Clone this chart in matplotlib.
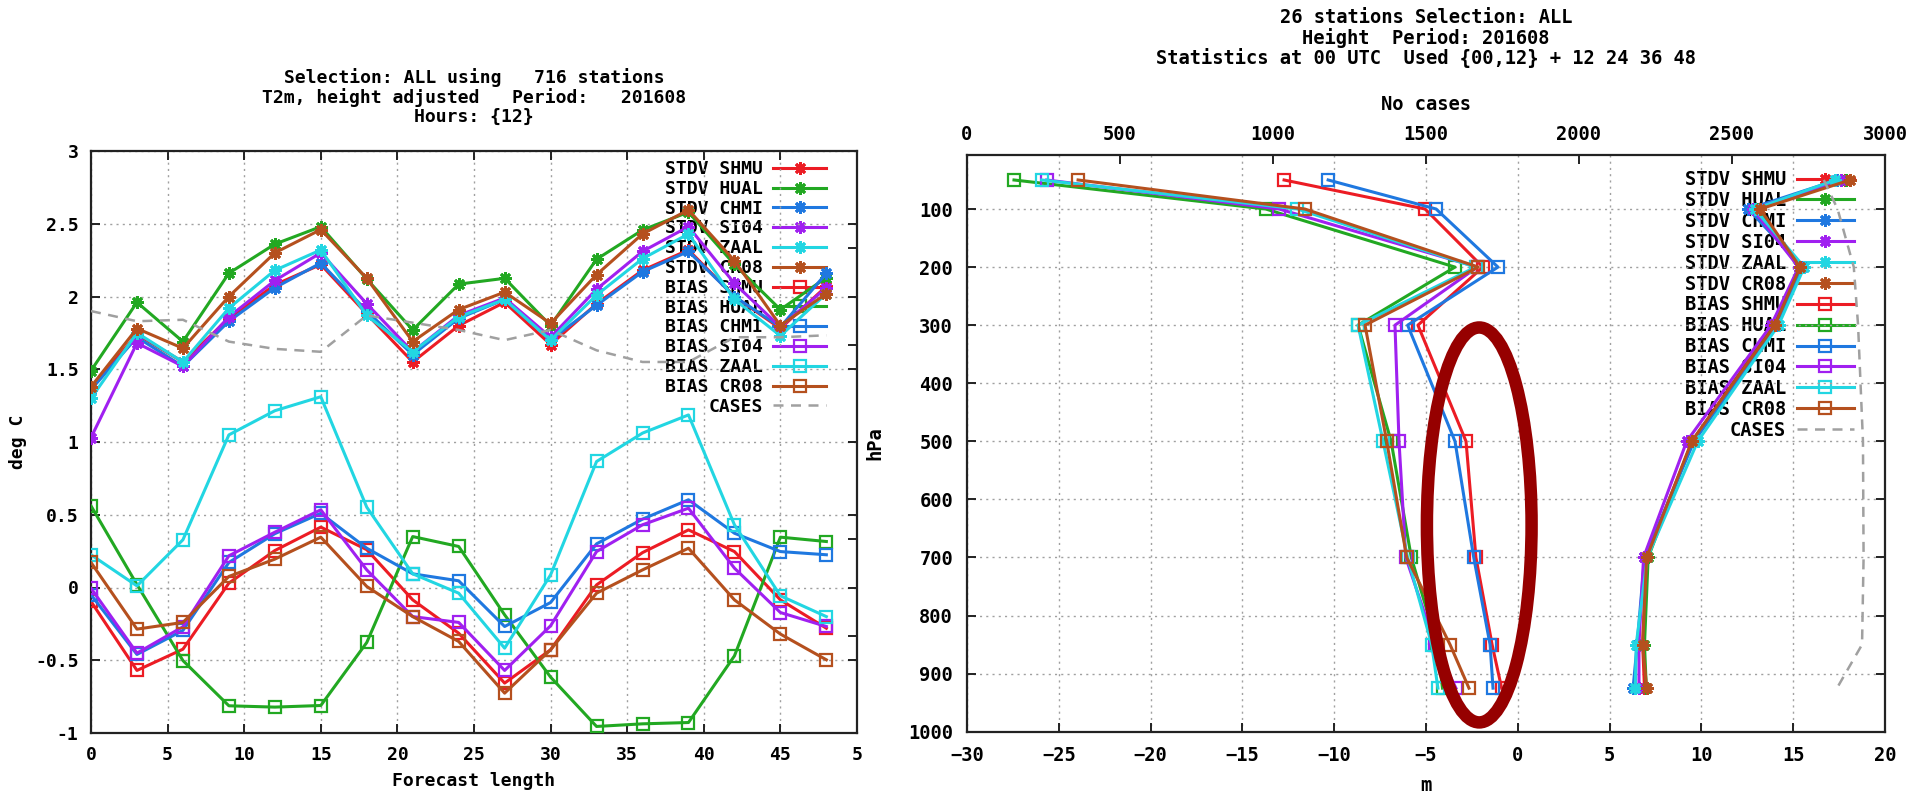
import matplotlib
matplotlib.use('Agg')
import matplotlib.pyplot as plt
from matplotlib.patches import Ellipse

# ---------------- data: left panel (T2m vs forecast length) ----------------
hours = [0, 3, 6, 9, 12, 15, 18, 21, 24, 27, 30, 33, 36, 39, 42, 45, 48]
stations = ['SHMU', 'HUAL', 'CHMI', 'SI04', 'ZAAL', 'CR08']

stdv_shmu = [1.37, 1.74, 1.55, 1.85, 2.08, 2.22, 1.88, 1.55, 1.80, 1.96, 1.67, 1.95, 2.18, 2.32, 2.00, 1.78, 2.07]
stdv_hual = [1.49, 1.96, 1.69, 2.16, 2.36, 2.48, 2.12, 1.77, 2.085, 2.125, 1.80, 2.256, 2.457, 2.58, 2.22, 1.91, 2.13]
stdv_chmi = [1.36, 1.72, 1.52, 1.83, 2.06, 2.23, 1.90, 1.60, 1.85, 1.98, 1.70, 1.94, 2.17, 2.31, 2.00, 1.79, 2.16]
stdv_si04 = [1.03, 1.68, 1.52, 1.86, 2.11, 2.30, 1.95, 1.62, 1.87, 1.99, 1.72, 2.05, 2.31, 2.48, 2.09, 1.79, 2.06]
stdv_zaal = [1.30, 1.75, 1.55, 1.92, 2.18, 2.32, 1.87, 1.62, 1.86, 1.98, 1.70, 2.01, 2.26, 2.43, 1.98, 1.73, 2.02]
stdv_cr08 = [1.38, 1.78, 1.644, 2.00, 2.30, 2.46, 2.125, 1.69, 1.91, 2.03, 1.815, 2.15, 2.43, 2.595, 2.246, 1.80, 2.02]

bias_shmu = [-0.096, -0.57, -0.424, 0.03, 0.254, 0.415, 0.26, -0.085, -0.314, -0.657, -0.428, 0.018, 0.24, 0.396, 0.247, -0.085, -0.28]
bias_hual = [0.561, 0.02, -0.502, -0.813, -0.822, -0.811, -0.378, 0.35, 0.282, -0.188, -0.616, -0.955, -0.937, -0.928, -0.47, 0.346, 0.316]
bias_chmi = [-0.05, -0.46, -0.295, 0.172, 0.37, 0.51, 0.27, 0.094, 0.046, -0.268, -0.103, 0.30, 0.47, 0.603, 0.373, 0.247, 0.225]
bias_si04 = [-0.005, -0.451, -0.27, 0.218, 0.38, 0.534, 0.121, -0.20, -0.24, -0.57, -0.263, 0.247, 0.431, 0.545, 0.133, -0.172, -0.268]
bias_zaal = [0.225, 0.011, 0.328, 1.049, 1.215, 1.311, 0.552, 0.094, -0.039, -0.417, 0.087, 0.866, 1.061, 1.186, 0.431, -0.057, -0.20]
bias_cr08 = [0.172, -0.286, -0.24, 0.076, 0.195, 0.346, 0.007, -0.20, -0.371, -0.726, -0.428, -0.039, 0.121, 0.27, -0.085, -0.32, -0.497]

cases_left = [4350, 4245, 4260, 4035, 3960, 3930, 4305, 4230, 4155, 4050, 4155, 3945, 3825, 3825, 4080, 4080, 4100]

left_xticks = [0, 5, 10, 15, 20, 25, 30, 35, 40, 45, 50]
left_xticklabels = ['0', '5', '10', '15', '20', '25', '30', '35', '40', '45', '5']
left_yticks = [-1, -0.5, 0, 0.5, 1, 1.5, 2, 2.5, 3]
left_yticklabels = ['-1', '-0.5', '0', '0.5', '1', '1.5', '2', '2.5', '3']

# ---------------- data: right panel (height profile) ----------------
levels = [50, 100, 200, 300, 500, 700, 850, 925]

r_bias_shmu = [-12.73, -5.05, -1.90, -5.44, -2.82, -2.28, -1.40, -0.88]
r_bias_hual = [-27.44, -13.73, -3.42, -8.70, -6.90, -5.80, -4.40, -4.10]
r_bias_chmi = [-10.33, -4.45, -1.08, -6.00, -3.42, -2.40, -1.51, -1.35]
r_bias_si04 = [-25.66, -13.00, -2.20, -6.69, -6.47, -6.10, -4.50, -3.37]
r_bias_zaal = [-25.93, -12.00, -2.30, -8.70, -7.34, -6.00, -4.69, -4.35]
r_bias_cr08 = [-23.95, -11.60, -2.15, -8.32, -7.14, -6.05, -3.69, -2.66]

r_stdv_shmu = [17.8, 12.9, 15.4, 13.9, 9.5, 7.00, 6.80, 6.90]
r_stdv_hual = [17.9, 13.0, 15.3, 14.0, 9.5, 7.10, 6.90, 7.00]
r_stdv_chmi = [17.4, 12.55, 15.5, 14.1, 9.6, 6.90, 6.50, 6.28]
r_stdv_si04 = [17.6, 12.8, 15.3, 13.8, 9.2, 6.85, 6.60, 6.60]
r_stdv_zaal = [17.3, 12.9, 15.6, 14.2, 9.8, 7.05, 6.45, 6.40]
r_stdv_cr08 = [18.1, 13.2, 15.37, 14.0, 9.47, 7.02, 6.80, 7.02]

cases_right = [2800, 2845, 2898, 2912, 2928, 2930, 2925, 2843]

right_xticks = [-30, -25, -20, -15, -10, -5, 0, 5, 10, 15, 20]
right_yticks = [100, 200, 300, 400, 500, 600, 700, 800, 900, 1000]
right_x2ticks = [0, 500, 1000, 1500, 2000, 2500, 3000]

# ---------------- style ----------------
colors = ['#ec1c24', '#22a822', '#1f78e0', '#a020f0', '#22d6e2', '#b5501e']
GRAY = '#a0a0a0'
FONT = 'DejaVu Sans Mono'
plt.rcParams['font.family'] = FONT
plt.rcParams['font.weight'] = 'bold'
ASTER = (8, 2, 0)

W, H = 1915, 798
fig = plt.figure(figsize=(W / 100, H / 100), dpi=100)
fig.patch.set_facecolor('white')

axL = fig.add_axes([91 / W, 1 - 733 / H, 766 / W, 582 / H])
axR = fig.add_axes([967 / W, 1 - 731.7 / H, 918 / W, 576.7 / H])


def style_axes(ax, fs):
    for s in ax.spines.values():
        s.set_linewidth(1.6)
        s.set_color('#222222')
    ax.tick_params(direction='in', length=6.5, width=1.4, colors='#222222',
                   labelcolor='black', labelsize=fs)
    ax.grid(True, color=GRAY, linestyle=(0, (1.5, 3)), linewidth=1.0)
    for lab in ax.get_xticklabels() + ax.get_yticklabels():
        lab.set_fontweight('bold')
        lab.set_family(FONT)


# ================= LEFT PANEL =================
FSL = 13
stdv_left = [stdv_shmu, stdv_hual, stdv_chmi, stdv_si04, stdv_zaal, stdv_cr08]
bias_left = [bias_shmu, bias_hual, bias_chmi, bias_si04, bias_zaal, bias_cr08]

handles = []
for st, vals, c in zip(stations, stdv_left, colors):
    h, = axL.plot(hours, vals, color=c, lw=2.2, marker=ASTER, ms=9, mew=2.0,
                  label=f'STDV {st}', zorder=3)
    handles.append(h)
for st, vals, c in zip(stations, bias_left, colors):
    h, = axL.plot(hours, vals, color=c, lw=2.2, marker='s', ms=8, mew=1.6,
                  mfc='none', label=f'BIAS {st}', zorder=3)
    handles.append(h)

axL.set_xlim(0, 50)
axL.set_ylim(-1, 3)
axL.set_xticks(left_xticks)
axL.set_xticklabels(left_xticklabels)
axL.set_yticks(left_yticks)
axL.set_yticklabels(left_yticklabels)
axL.tick_params(top=True, right=False, pad=9)
style_axes(axL, FSL)
axL.set_xlabel('Forecast length', fontsize=FSL, fontweight='bold', labelpad=6)
axL.set_ylabel('deg C', fontsize=FSL, fontweight='bold', labelpad=6)

axL2 = axL.twinx()
hc, = axL2.plot(hours, cases_left, color=GRAY, lw=1.8, linestyle=(0, (4, 3)),
                label='CASES', zorder=2)
handles.append(hc)
axL2.set_ylim(0, 6000)
axL2.set_yticks(range(0, 6001, 1000))
axL2.set_yticklabels([])
axL2.tick_params(direction='in', length=6.5, width=1.4, colors='#222222')
for s in axL2.spines.values():
    s.set_visible(False)
axL.tick_params(right=True)

legL = axL.legend(handles=handles, loc='upper right', bbox_to_anchor=(0.971, 1.0),
                  frameon=False, markerfirst=False, handlelength=2.9,
                  handletextpad=0.6, labelspacing=0.1, borderpad=0,
                  prop={'family': FONT, 'weight': 'bold', 'size': FSL})
legL.set_zorder(1)

axL.set_title('Selection: ALL using   716 stations\n'
              'T2m, height adjusted   Period:   201608\n'
              'Hours: {12}', fontsize=FSL, fontweight='bold', family=FONT,
              pad=21, linespacing=1.05)

# ================= RIGHT PANEL =================
FSR = 13.5
stdv_right = [r_stdv_shmu, r_stdv_hual, r_stdv_chmi, r_stdv_si04, r_stdv_zaal, r_stdv_cr08]
bias_right = [r_bias_shmu, r_bias_hual, r_bias_chmi, r_bias_si04, r_bias_zaal, r_bias_cr08]

handlesR = []
for st, vals, c in zip(stations, stdv_right, colors):
    h, = axR.plot(vals, levels, color=c, lw=2.2, marker=ASTER, ms=9, mew=2.0,
                  label=f'STDV {st}', zorder=3)
    handlesR.append(h)
for st, vals, c in zip(stations, bias_right, colors):
    h, = axR.plot(vals, levels, color=c, lw=2.2, marker='s', ms=8, mew=1.6,
                  mfc='none', label=f'BIAS {st}', zorder=3)
    handlesR.append(h)

axR.set_xlim(-30, 20)
axR.set_ylim(1000, 7)
axR.set_xticks(right_xticks)
axR.set_yticks(right_yticks)
axR.tick_params(top=True, right=True, pad=10)
style_axes(axR, FSR)
axR.set_xlabel('m', fontsize=FSR, fontweight='bold', labelpad=8)
axR.set_ylabel('hPa', fontsize=FSR, fontweight='bold', labelpad=17)

axR2 = axR.twiny()
hcr, = axR2.plot(cases_right, levels, color=GRAY, lw=1.8, linestyle=(0, (4, 3)),
                 label='CASES', zorder=2)
handlesR.append(hcr)
axR2.set_xlim(0, 3000)
axR2.set_xticks(right_x2ticks)
axR2.tick_params(direction='in', length=6.5, width=1.4, colors='#222222',
                 labelcolor='black', labelsize=FSR, pad=8)
for lab in axR2.get_xticklabels():
    lab.set_fontweight('bold')
    lab.set_family(FONT)
for s in axR2.spines.values():
    s.set_visible(False)
axR2.set_xlabel('No cases', fontsize=FSR, fontweight='bold', labelpad=11)

legR = axR.legend(handles=handlesR, loc='upper right', bbox_to_anchor=(0.976, 0.99),
                  frameon=False, markerfirst=False, handlelength=3.0,
                  handletextpad=0.6, labelspacing=0.1, borderpad=0,
                  prop={'family': FONT, 'weight': 'bold', 'size': FSR})
legR.set_zorder(1)

# highlight ellipse annotation
axR.add_patch(Ellipse((-2.1, 644), 5.7, 680, fill=False, edgecolor='#960000',
                      linewidth=9, zorder=6))

fig.text(1426 / W, 1 - 38 / H,
         '26 stations Selection: ALL\n'
         'Height  Period: 201608\n'
         'Statistics at 00 UTC  Used {00,12} + 12 24 36 48',
         ha='center', va='center', fontsize=FSR, fontweight='bold', family=FONT,
         linespacing=1.05)

fig.savefig('out.png', dpi=100, facecolor='white')
